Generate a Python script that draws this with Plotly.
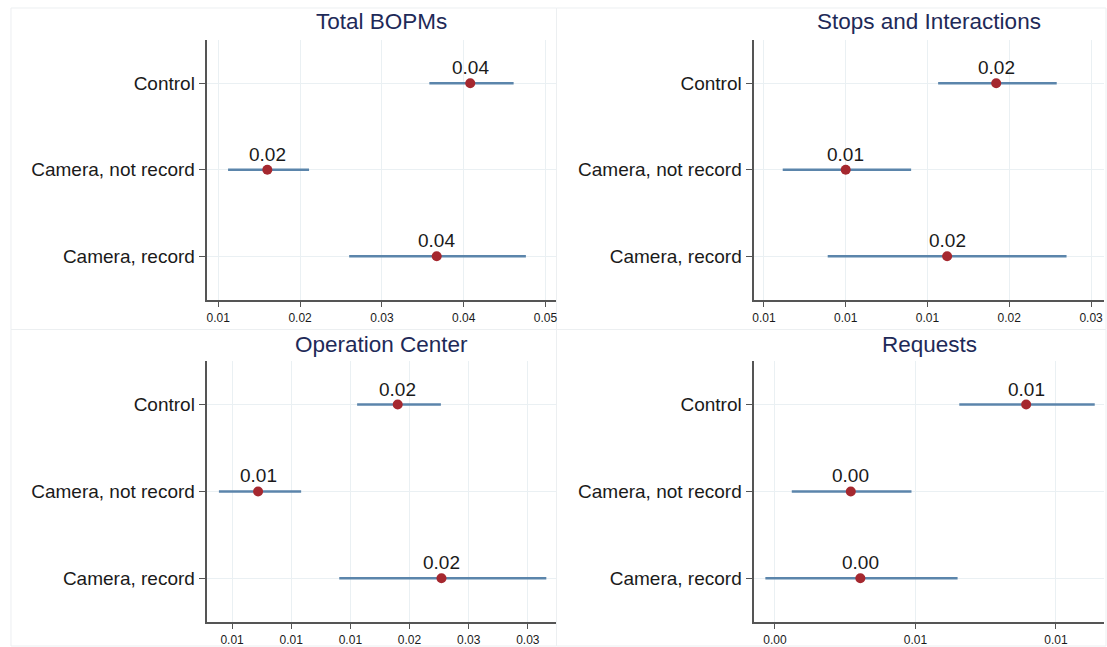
import plotly.graph_objects as go

# ---------------- data ----------------
categories = ["Control", "Camera, not record", "Camera, record"]

panel_titles = ["Total BOPMs", "Stops and Interactions", "Operation Center", "Requests"]

# point estimates and 95% CI (low, high) per panel, order = categories
bopm_est = [0.0408, 0.0160, 0.0367]
bopm_lo = [0.0358, 0.0112, 0.0260]
bopm_hi = [0.0461, 0.0211, 0.0476]

stops_est = [0.0192, 0.0100, 0.0162]
stops_lo = [0.01565, 0.00615, 0.0089]
stops_hi = [0.0229, 0.0140, 0.0235]

opc_est = [0.0190, 0.0072, 0.0227]
opc_lo = [0.01557, 0.00389, 0.01406]
opc_hi = [0.02265, 0.01084, 0.03156]

req_est = [0.00894, 0.0027, 0.00304]
req_lo = [0.00656, 0.0006, -0.00034]
req_hi = [0.01138, 0.00486, 0.0065]

# tick values and tick labels (labels shown with 2 decimals, as in the source)
bopm_ticks = [0.01, 0.02, 0.03, 0.04, 0.05]
bopm_ticklabels = ["0.01", "0.02", "0.03", "0.04", "0.05"]
stops_ticks = [0.005, 0.010, 0.015, 0.020, 0.025]
stops_ticklabels = ["0.01", "0.01", "0.01", "0.02", "0.03"]
opc_ticks = [0.005, 0.010, 0.015, 0.020, 0.025, 0.030]
opc_ticklabels = ["0.01", "0.01", "0.01", "0.02", "0.03", "0.03"]
req_ticks = [0.0, 0.005, 0.010]
req_ticklabels = ["0.00", "0.01", "0.01"]

bopm_range = [0.00868, 0.05134]
stops_range = [0.00441, 0.02579]
opc_range = [0.00292, 0.03242]
req_range = [-0.000735, 0.01171]

# ---------------- styling ----------------
W, H = 1107, 647
FONT = "Liberation Sans, Arial, Helvetica, sans-serif"
MARKER_COLOR = "#a5282f"
LINE_COLOR = "#5b85ab"
TITLE_COLOR = "#1e2a58"
AXIS_COLOR = "#555555"
GRID_COLOR = "#eaf0f3"
TEXT_COLOR = "#1a1a1a"

col_dom = [[206 / W, 556 / W], [754.3 / W, 1105 / W]]
row_dom = [[1 - 300 / H, 1 - 40 / H], [1 - 622.7 / H, 1 - 361.7 / H]]

panels = [
    (bopm_est, bopm_lo, bopm_hi, bopm_ticks, bopm_ticklabels, bopm_range, 0, 0),
    (stops_est, stops_lo, stops_hi, stops_ticks, stops_ticklabels, stops_range, 0, 1),
    (opc_est, opc_lo, opc_hi, opc_ticks, opc_ticklabels, opc_range, 1, 0),
    (req_est, req_lo, req_hi, req_ticks, req_ticklabels, req_range, 1, 1),
]

fig = go.Figure()
layout = {}
annotations = []
shapes = []

for i, (est, lo, hi, tv, tt, rng, r, c) in enumerate(panels):
    idx = "" if i == 0 else str(i + 1)
    xa, ya = "x" + idx, "y" + idx
    plus = [h - e for h, e in zip(hi, est)]
    minus = [e - l for e, l in zip(est, lo)]
    fig.add_trace(go.Scatter(
        x=est, y=categories, xaxis=xa, yaxis=ya,
        mode="markers",
        marker=dict(color=MARKER_COLOR, size=10),
        error_x=dict(type="data", symmetric=False, array=plus, arrayminus=minus,
                     color=LINE_COLOR, thickness=2.5, width=0),
        showlegend=False, hoverinfo="x+y",
    ))
    # value labels above each point
    for v, cat in zip(est, categories):
        annotations.append(dict(
            x=v, y=cat, xref=xa, yref=ya, text=f"{v:.2f}",
            xanchor="center", yanchor="bottom", yshift=3, showarrow=False,
            font=dict(family=FONT, size=19, color=TEXT_COLOR),
        ))
    layout["xaxis" + idx] = dict(
        domain=col_dom[c], anchor=ya, range=rng,
        tickmode="array", tickvals=tv, ticktext=tt,
        ticks="outside", ticklen=6, tickwidth=1.3, tickcolor=AXIS_COLOR,
        showline=True, linecolor=AXIS_COLOR, linewidth=1.5,
        showgrid=True, gridcolor=GRID_COLOR, gridwidth=1, zeroline=False,
        tickfont=dict(family=FONT, size=12, color=TEXT_COLOR),
    )
    layout["yaxis" + idx] = dict(
        domain=row_dom[r], anchor=xa, type="category",
        categoryorder="array", categoryarray=categories[::-1],
        range=[-0.5, 2.5],
        ticks="outside", ticklen=7, tickwidth=1.3, tickcolor=AXIS_COLOR,
        showline=True, linecolor=AXIS_COLOR, linewidth=1.5,
        showgrid=True, gridcolor=GRID_COLOR, gridwidth=1, zeroline=False,
        tickfont=dict(family=FONT, size=19, color=TEXT_COLOR),
    )
    # panel title
    title_y = [1 - 22 / H, 1 - 345 / H][r]
    annotations.append(dict(
        text=panel_titles[i], x=sum(col_dom[c]) / 2, y=title_y,
        xref="paper", yref="paper", xanchor="center", yanchor="middle",
        showarrow=False, font=dict(family=FONT, size=22.5, color=TITLE_COLOR),
    ))

# faint panel outlines (graph regions of the combined figure)
outline = "#eceff1"
for (x0, y0, x1, y1) in [(9, 8, 556, 330), (556, 8, 1107, 330),
                         (9, 330, 556, 647), (556, 330, 1107, 647)]:
    shapes.append(dict(type="rect", xref="paper", yref="paper",
                       x0=x0 / W, x1=x1 / W, y0=1 - y1 / H, y1=1 - y0 / H,
                       line=dict(color=outline, width=1), layer="below"))

fig.update_layout(
    width=W, height=H,
    margin=dict(l=0, r=0, t=0, b=0),
    paper_bgcolor="white", plot_bgcolor="white",
    annotations=annotations, shapes=shapes,
    font=dict(family=FONT, color=TEXT_COLOR),
    **layout,
)

fig.write_html(
    "out.html",
    config={"displayModeBar": False},
    post_script="document.body.style.margin='0px';document.body.style.overflow='hidden';",
)
